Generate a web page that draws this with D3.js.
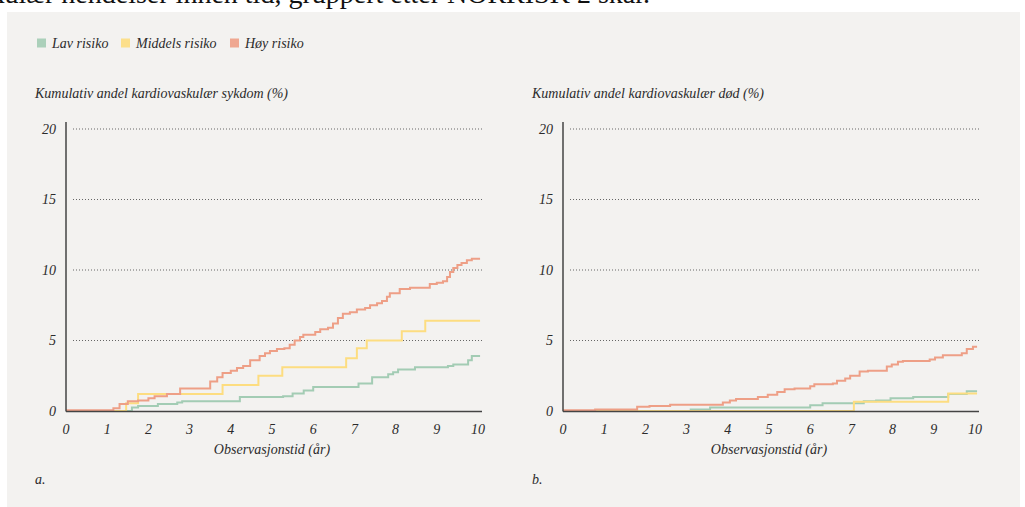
<!DOCTYPE html>
<html><head><meta charset="utf-8">
<script src="https://cdn.jsdelivr.net/npm/d3@7"></script>
<style>
body{margin:0;background:#fff;}
svg text{font-family:"Liberation Serif",serif;font-style:italic;fill:#2b2b2b;}
</style></head><body>
<svg id="c" width="1025" height="507"></svg>
<script>
// ---- data ----
const seriesNames = ["Lav risiko", "Middels risiko", "Høy risiko"];
const xTicks = [0,1,2,3,4,5,6,7,8,9,10];
const yTicks = [0,5,10,15,20];

// Panel a: cumulative CVD (%)
const aLowT  = [0,1.6,1.75,2.23,2.7,2.82,4.22,5.27,5.5,5.77,6.0,7.1,7.43,7.82,7.94,8.06,8.47,9.27,9.4,9.76,9.85,10.05];
const aLowV  = [0,0.25,0.35,0.5,0.6,0.7,1.0,1.05,1.25,1.45,1.7,1.95,2.4,2.6,2.75,2.95,3.1,3.2,3.3,3.6,3.9,3.9];
const aMidT  = [0,1.46,1.75,3.8,4.67,5.25,6.8,7.06,7.3,8.15,8.72,10.05];
const aMidV  = [0,0.55,1.2,1.85,2.5,3.1,3.75,4.45,5.0,5.65,6.4,6.4];
const aHighT = [0,1.15,1.3,1.5,1.75,2.0,2.15,2.45,2.77,3.5,3.67,3.8,4.0,4.15,4.3,4.47,4.7,4.83,4.95,5.12,5.3,5.43,5.55,5.68,5.76,6.05,6.17,6.36,6.48,6.6,6.72,6.89,7.06,7.26,7.38,7.55,7.67,7.79,7.86,8.1,8.35,8.83,9.0,9.15,9.25,9.32,9.4,9.5,9.6,9.73,9.85,10.05];
const aHighV = [0.05,0.2,0.5,0.7,0.75,0.9,1.05,1.2,1.6,2.1,2.4,2.7,2.85,3.05,3.2,3.6,3.9,4.1,4.25,4.4,4.45,4.7,5.0,5.25,5.4,5.6,5.8,5.9,6.2,6.6,6.9,7.0,7.2,7.3,7.5,7.65,7.8,8.1,8.35,8.65,8.75,9.0,9.1,9.2,9.5,9.85,10.15,10.35,10.5,10.7,10.8,10.8];

// Panel b: cumulative CV death (%)
const bLowT  = [0,3.1,3.57,6.0,6.3,7.3,7.6,7.95,8.5,9.35,9.8,10.05];
const bLowV  = [0,0.1,0.25,0.4,0.55,0.7,0.75,0.9,1.0,1.2,1.4,1.4];
const bMidT  = [0,7.06,9.35,10.05];
const bMidV  = [0,0.65,1.25,1.25];
const bHighT = [0,0.78,1.8,2.1,2.6,3.88,4.05,4.2,4.73,4.97,5.2,5.38,5.62,6.0,6.1,6.55,6.65,6.85,6.97,7.2,7.4,7.86,7.98,8.13,8.25,8.9,9.03,9.22,9.68,9.8,9.95,10.05];
const bHighV = [0.05,0.1,0.3,0.35,0.45,0.6,0.75,0.85,1.0,1.15,1.35,1.55,1.6,1.75,1.9,1.95,2.15,2.3,2.5,2.8,2.85,3.15,3.3,3.5,3.55,3.65,3.8,3.95,4.1,4.4,4.55,4.55];

const colors = ["#a3ccb4", "#fddd80", "#ee9f86"];

// ---- drawing ----
const svg = d3.select("#c");
svg.append("rect").attr("x",7).attr("y",12).attr("width",1013).attr("height",495).attr("fill","#f3f2f0");

svg.append("text").attr("x",650).attr("y",3).attr("text-anchor","end")
  .style("font-family","'Liberation Serif',serif").style("font-style","normal").style("fill","#111")
  .style("font-size","28px").text("kardiovaskulær hendelser innen tid, gruppert etter NORRISK 2 skår.");

// legend
const legX = [37,121,230];
seriesNames.forEach((n,i)=>{
  svg.append("rect").attr("x",legX[i]).attr("y",38.5).attr("width",9).attr("height",9).attr("fill",colors[i]).attr("opacity",0.9);
  svg.append("text").attr("x",legX[i]+15).attr("y",47.5).style("font-size","14px").text(n);
});

function panel(x0, title, tag, data){
  const x = d3.scaleLinear().domain([0,10]).range([x0, x0+412]);
  const y = d3.scaleLinear().domain([0,20]).range([411,129]);
  const g = svg.append("g");
  g.append("text").attr("x",x0-31).attr("y",98).style("font-size","14px").text(title);
  // grid
  yTicks.filter(t=>t>0).forEach(t=>{
    g.append("line").attr("x1",x0+7).attr("x2",x0+416).attr("y1",y(t)).attr("y2",y(t))
      .attr("stroke","#666").attr("stroke-width",1).attr("stroke-dasharray","1,2");
  });
  // y labels
  yTicks.forEach(t=>{
    g.append("text").attr("x",x0-10).attr("y",y(t)+4.5).attr("text-anchor","end").style("font-size","14px").text(t);
  });
  // x labels
  xTicks.forEach(t=>{
    g.append("text").attr("x",x(t)).attr("y",434).attr("text-anchor","middle").style("font-size","14px").text(t);
  });
  g.append("text").attr("x",x(5)).attr("y",454).attr("text-anchor","middle").style("font-size","14px").text("Observasjonstid (år)");
  g.append("text").attr("x",x0-31).attr("y",484).style("font-size","14px").text(tag);
  // lines
  const line = d3.line().x(d=>x(d[0])).y(d=>y(d[1])).curve(d3.curveStepAfter);
  data.forEach((s,i)=>{
    const pts = s[0].map((t,j)=>[t,s[1][j]]);
    g.append("path").attr("d",line(pts)).attr("fill","none").attr("stroke",colors[i]).attr("stroke-width",2);
  });
  // axes
  g.append("line").attr("x1",x0).attr("x2",x0).attr("y1",122).attr("y2",411.5).attr("stroke","#444").attr("stroke-width",1.5);
  g.append("line").attr("x1",x0).attr("x2",x0+416).attr("y1",411.5).attr("y2",411.5).attr("stroke","#444").attr("stroke-width",1.5);
}

panel(66, "Kumulativ andel kardiovaskulær sykdom (%)", "a.", [[aLowT,aLowV],[aMidT,aMidV],[aHighT,aHighV]]);
panel(563, "Kumulativ andel kardiovaskulær død  (%)", "b.", [[bLowT,bLowV],[bMidT,bMidV],[bHighT,bHighV]]);
</script>
</body></html>
